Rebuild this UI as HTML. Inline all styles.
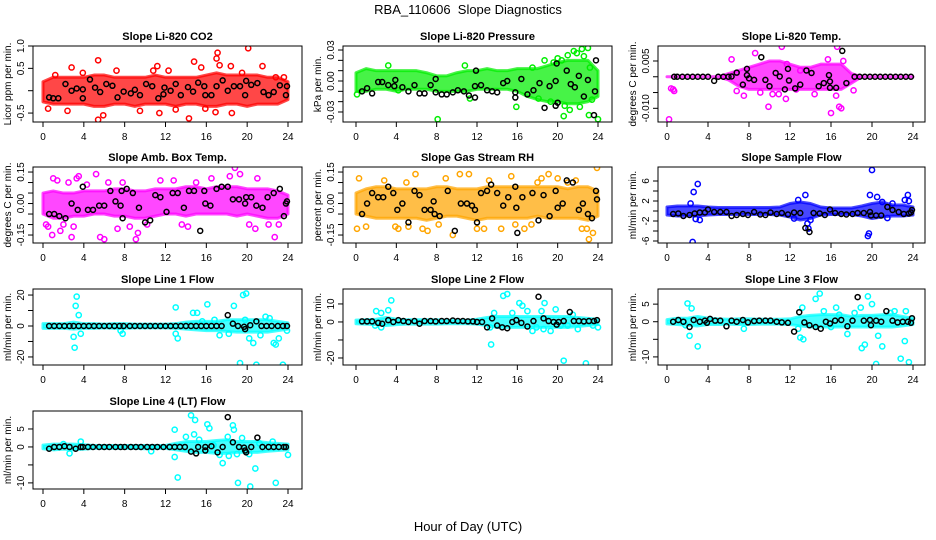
<!DOCTYPE html>
<html><head><meta charset="utf-8"><style>
html,body{margin:0;padding:0;background:#fff;}
svg{display:block;font-family:"Liberation Sans",sans-serif;}
</style></head><body>
<svg id="chart" width="936" height="540" viewBox="0 0 936 540">
<rect width="936" height="540" fill="#fff"/>
<text x="468" y="14" text-anchor="middle" font-size="13" xml:space="preserve">RBA_110606  Slope Diagnostics</text>
<text x="468" y="531" text-anchor="middle" font-size="13">Hour of Day (UTC)</text>
</svg>
<script>
const hours = [0,1,2,3,4,5,6,7,8,9,10,11,12,13,14,15,16,17,18,19,20,21,22,23,24];
const xTicks = [0,4,8,12,16,20,24];

// Panel 1: CO2
const co2Lo=[-0.25,-0.3,-0.3,-0.3,-0.3,-0.35,-0.35,-0.3,-0.3,-0.35,-0.3,-0.3,-0.3,-0.35,-0.3,-0.3,-0.35,-0.35,-0.3,-0.3,-0.35,-0.3,-0.3,-0.3,-0.2];
const co2Hi=[0.2,0.3,0.3,0.3,0.3,0.35,0.35,0.3,0.3,0.3,0.3,0.35,0.3,0.3,0.3,0.3,0.35,0.4,0.35,0.35,0.35,0.35,0.3,0.3,0.2];
const co2X=[2.8,5.4,5.4,5.9,11.2,11.4,14.3,14.8,15.5,17.1,17.0,17.3,18.4,20.1,21.5,2.4,9.5,18.5,16.9,12.3,7.2,0.5,22.8,3.9,1.2,10.8,13.0,15.9,19.5,23.6];
const co2Y=[0.52,0.68,-0.65,-0.55,0.55,-0.5,-0.62,0.65,0.52,0.85,0.72,0.57,0.55,0.95,0.55,-0.45,-0.45,-0.5,-0.48,0.45,0.45,-0.4,0.3,0.4,0.35,0.45,-0.42,-0.4,0.4,0.3];
const co2BX=[0.6,1.0,1.5,2.2,2.8,3.3,3.9,3.9,4.6,5.1,5.6,6.2,6.8,7.3,7.9,8.6,9.0,9.5,10.1,10.7,11.3,11.8,11.9,12.5,13.0,13.5,14.2,14.7,15.2,15.8,15.9,16.5,17.0,17.6,18.1,18.7,19.3,19.8,19.9,20.4,21.0,21.6,22.1,22.6,23.2,23.8,23.9];
const co2BY=[-0.15,-0.17,-0.17,0.15,0,0.05,0.03,-0.17,0.25,0.07,-0.03,0.15,0.11,-0.15,-0.02,-0.06,0.02,-0.1,0.15,0.1,-0.17,-0.08,0.07,0,0.15,-0.1,0.08,-0.02,0.18,0.1,-0.1,-0.1,0.1,0.23,0,0.1,0.1,-0.1,0.22,0.13,0.17,-0.03,-0.1,-0.03,0.12,-0.1,0.1];

// Panel 2: Pressure
const prLo=[-0.01,-0.01,-0.008,-0.008,-0.01,-0.008,-0.008,-0.008,-0.01,-0.01,-0.01,-0.01,-0.008,-0.008,-0.008,-0.008,-0.01,-0.015,-0.018,-0.02,-0.02,-0.022,-0.022,-0.02,-0.015];
const prHi=[0.008,0.012,0.01,0.01,0.01,0.01,0.01,0.008,0.005,0.005,0.008,0.01,0.01,0.012,0.01,0.01,0.012,0.012,0.012,0.015,0.018,0.02,0.02,0.02,0.01];
const prX=[0.1,3.2,4.2,8.1,10.8,11.3,15.9,17.5,18.1,18.7,19.6,20.4,20.6,20.7,21.2,21.6,21.9,22.4,22.6,23.0,23.1,23.2,23.4,24.0,22.2,20.0,19.3,21.0];
const prY=[-0.013,0.015,-0.009,-0.037,0.015,-0.017,-0.025,0.013,-0.017,0.02,0.018,0.02,-0.034,-0.024,-0.028,0.029,0.027,0.031,0.024,0.032,-0.033,0.013,-0.018,-0.037,-0.025,0.022,-0.02,0.025];
const prBX=[0.6,1.1,1.6,2.2,2.6,3.2,3.8,3.9,4.6,5.2,5.8,6.3,6.8,7.4,7.9,7.9,8.5,9.0,9.6,10.1,10.7,11.2,11.8,11.8,11.9,12.4,13.0,13.5,14.0,14.6,15.0,15.8,15.8,16.4,17.0,17.6,18.2,18.7,19.2,19.8,19.8,19.9,20.0,20.9,21.3,21.7,22.1,22.6,23.0,23.6,23.7,23.8];
const prBY=[-0.01,-0.007,-0.012,-0.001,-0.001,-0.004,-0.005,0.001,-0.006,-0.01,-0.004,-0.012,-0.012,-0.004,-0.011,0.002,-0.013,-0.013,-0.011,-0.009,-0.01,-0.014,-0.016,-0.005,0.01,-0.004,-0.009,-0.01,-0.011,-0.002,0,-0.016,-0.011,0.002,-0.013,-0.009,-0.002,-0.026,-0.005,-0.024,0,0.017,-0.021,0.01,-0.003,-0.006,0.005,-0.015,0.001,-0.033,-0.01,0.02];

// Panel 3: Li-820 Temp
const tpLo=[0,0,0,0,0,0,-0.001,-0.003,-0.004,-0.004,-0.004,-0.004,-0.004,-0.004,-0.004,-0.004,-0.004,-0.004,-0.002,0,0,0,0,0,0];
const tpHi=[0,0,0,0,0,0,0.001,0.002,0.003,0.004,0.005,0.005,0.004,0.003,0.003,0.004,0.004,0.004,0.001,0,0,0,0,0,0];
const tpX=[0.2,0.4,0.6,0.7,6.3,6.8,7.5,8.6,9.1,9.9,10.3,10.9,11.6,11.7,13.0,14.4,15.7,16.0,16.6,16.5,16.8,17.0,17.2,18.2,11.2,12.6];
const tpY=[-0.0135,-0.0037,-0.004,-0.0045,0.0055,-0.0045,-0.006,0.0075,-0.005,-0.0095,-0.0055,-0.0055,-0.007,0.004,0.002,-0.0055,0.0055,-0.0115,0.0095,-0.006,-0.0095,-0.01,0.005,-0.0043,0.0095,-0.004];
const tpBX=[0.7,1.0,1.5,2.0,2.5,3.0,3.5,4.0,5.0,5.5,6.0,4.6,6.3,6.8,7.4,7.8,7.8,8.0,8.5,9.2,9.6,10.0,10.6,11.0,11.5,11.8,11.9,12.5,13.0,13.6,14.1,14.8,15.3,15.8,15.9,15.9,16.5,17.1,17.5,18.3,18.8,19.3,19.8,20.3,20.8,21.3,21.8,22.3,22.8,23.3,23.8];
const tpBY=[0,0,0,0,0,0,0,0,0,0,0,-0.0013,0.0001,0.0013,-0.0025,0.0025,0.0005,-0.0005,-0.001,0.0062,-0.001,-0.003,0.0012,0.0001,-0.004,0.0025,-0.0012,-0.0037,-0.0025,0.002,0.0012,-0.003,-0.002,0.0005,-0.0035,-0.0015,-0.0035,0.0082,-0.002,0,0,0,0,0,0,0,0,0,0,0,0];

// Panel 4: Amb. Box Temp
const abLo=[-0.05,-0.07,-0.07,-0.06,-0.06,-0.05,-0.05,-0.06,-0.06,-0.07,-0.07,-0.06,-0.05,-0.05,-0.06,-0.05,-0.05,-0.05,-0.05,-0.06,-0.05,-0.06,-0.07,-0.07,-0.05];
const abHi=[0.05,0.06,0.05,0.05,0.06,0.06,0.06,0.07,0.07,0.06,0.06,0.07,0.07,0.07,0.08,0.08,0.07,0.08,0.08,0.08,0.07,0.07,0.07,0.06,0.04];
const abX=[0.3,0.5,0.9,1.0,1.4,1.7,2.0,2.5,2.8,3.3,3.5,4.3,5.2,5.6,6.0,6.4,7.3,7.8,9.1,9.3,11.5,12.8,14.2,16.5,18.3,18.8,19.3,20.2,21.0,22.1,22.7,23.1,8.5,10.2,13.6,15.0,20.8,3.0];
const abY=[-0.1,-0.11,-0.15,0.12,0.11,-0.13,-0.1,0.1,-0.16,0.12,0.13,0.09,0.14,-0.16,-0.17,0.1,-0.12,0.1,-0.17,-0.14,0.11,0.11,-0.11,0.12,0.13,0.17,0.14,-0.1,0.12,-0.1,-0.16,-0.1,-0.11,-0.1,-0.1,0.1,-0.12,-0.11];
const abBX=[0.6,1.1,1.6,2.2,2.8,3.4,3.9,4.4,4.9,5.5,6.0,6.6,7.1,7.6,7.7,7.8,8.2,8.8,9.4,10.0,10.5,11.0,11.5,12.1,12.7,13.2,13.8,14.3,14.8,15.4,15.8,15.9,16.4,17.0,17.5,18.1,18.6,19.2,19.8,19.9,20.4,20.9,21.5,22.0,22.6,23.2,23.6,23.9,23.8];
const abBY=[-0.05,-0.05,-0.06,-0.07,0,-0.03,0.08,-0.03,-0.03,-0.01,-0.01,0.06,0.01,-0.01,0.06,-0.07,0.07,0.05,-0.02,-0.09,-0.08,0.04,0.03,-0.04,0.05,0.05,-0.02,0.06,0.06,-0.13,0.06,0,-0.01,0.07,0.08,0.08,0.02,0.02,0,0.03,0.03,-0.01,-0.02,0.03,0.05,0.07,-0.06,0.01,0];

// Panel 5: Gas Stream RH
const rhLo=[-0.05,-0.06,-0.07,-0.07,-0.07,-0.07,-0.07,-0.08,-0.07,-0.06,-0.06,-0.07,-0.08,-0.07,-0.07,-0.07,-0.07,-0.07,-0.06,-0.07,-0.07,-0.07,-0.07,-0.08,-0.06];
const rhHi=[0.05,0.07,0.08,0.08,0.07,0.07,0.07,0.07,0.08,0.08,0.07,0.07,0.07,0.08,0.08,0.08,0.08,0.08,0.08,0.08,0.08,0.07,0.08,0.08,0.06];
const rhX=[0.1,0.3,1.0,2.8,3.9,4.2,5.2,5.9,6.6,7.1,8.2,9.6,10.3,11.2,12.0,12.7,13.2,14.4,15.4,16.7,18.0,18.4,19.1,20.0,21.0,22.4,22.9,23.1,23.5,23.9,21.8,17.4,15.8,8.9,5.0];
const rhY=[-0.12,0.12,-0.11,0.11,-0.11,-0.12,-0.11,0.14,-0.12,-0.13,-0.1,-0.15,0.14,0.14,-0.12,-0.12,0.11,-0.12,0.13,-0.12,0.1,0.12,0.14,0.12,0.1,-0.12,-0.12,-0.17,-0.14,0.17,0.11,-0.1,-0.1,0.12,0.1];
const rhBX=[0.6,1.1,1.6,2.2,2.7,3.2,3.7,4.1,4.6,5.2,5.8,6.3,6.8,7.4,7.7,7.8,8.3,9.1,9.8,10.4,11.0,11.5,11.8,12.0,12.4,13.0,13.4,14.0,14.6,15.1,15.8,15.9,16.5,16.0,17.5,18.1,18.6,19.2,19.8,20.0,20.5,20.9,21.5,22.1,22.5,23.0,23.4,23.8,23.9];
const rhBY=[-0.05,0,0.05,0.03,0.03,0.08,0.05,-0.03,0,-0.09,0.06,0.04,-0.03,-0.03,0.01,-0.05,-0.06,0.06,-0.13,0,0,-0.01,-0.03,-0.09,0.05,0.06,0.09,0.05,-0.01,0.03,0.08,-0.02,0.03,-0.14,0.05,-0.08,0.04,-0.06,0.06,-0.02,0,0.11,0.1,-0.03,0,-0.05,-0.07,0.06,0.02];

// Panel 6: Sample Flow
const sfLo=[-0.8,-1,-1,-1,-0.8,-0.7,-0.7,-0.7,-0.7,-0.7,-0.7,-0.8,-1.2,-1.8,-1.5,-0.8,-0.7,-0.7,-0.7,-1.0,-1.5,-1.2,-1.0,-1.0,-0.8];
const sfHi=[0.8,1.0,1.0,1.0,0.8,0.7,0.7,0.7,0.7,0.7,0.7,0.8,1.5,1.8,1.5,0.8,0.6,0.6,0.6,1.0,1.5,1.8,1.2,1.2,0.8];
const sfX=[2.5,2.6,3.0,2.3,2.8,3.2,13.5,13.7,13.8,14.0,12.8,19.6,19.7,20.0,19.8,20.5,21.0,23.5,23.2,23.6,12.4,21.5,22.0];
const sfY=[-6.2,3.8,5.4,1.5,-1.6,-1.8,3.2,-2.5,-3.5,-1.8,2.2,-5.0,-4.5,8.2,3.2,2.8,1.8,3.2,2.2,2.0,-1.5,-1.4,1.5];
const sfBX=[0.6,1.1,1.6,2.2,2.7,3.2,3.7,4.0,4.6,5.2,5.8,6.3,6.8,7.4,7.9,8.5,9.1,9.6,10.1,10.7,11.2,11.8,12.4,13.0,13.5,13.9,14.3,14.9,15.4,15.9,16.4,17.0,17.5,18.1,18.6,19.2,19.8,19.9,20.4,20.9,21.5,22.0,22.6,23.1,23.6,23.9,23.8];
const sfBY=[-0.6,-0.5,-1.0,-0.8,-0.5,-0.3,-0.3,0.3,-0.2,-0.2,-0.2,-1.0,-0.8,-0.6,-0.8,-0.2,-0.7,-0.8,-0.3,-0.6,-0.4,-0.7,-0.3,-0.4,-3.4,-4.2,-0.4,-0.5,-0.8,0.3,-0.4,-0.6,-0.7,-0.6,-0.4,-0.4,-0.2,-0.9,-0.9,-0.9,0.8,0.2,-0.2,-0.6,-0.5,0.2,-0.3];

// Panel 7: Line 1 Flow
const l1Lo=[-1.5,-1.5,-1.5,-2,-1.5,-1.5,-1.2,-1.5,-1.5,-1.2,-1.2,-1.2,-1.2,-1.5,-2,-2.5,-3,-3,-3.5,-4,-4,-4,-4,-3,-2];
const l1Hi=[1.5,1.5,1.5,2.5,1.5,1.5,1.2,1.5,1.5,1.2,1.2,1.2,1.2,1.5,2.5,3,3,3,4,4,4,4,4,3,2];
const l1X=[3.0,3.1,3.2,3.3,3.5,3.7,7.6,7.8,13.0,13.0,13.2,14.7,15.1,15.6,16.1,16.8,17.3,18.2,18.7,19.3,19.6,19.9,19.8,20.2,20.6,20.9,21.3,21.8,22.2,22.6,23.1,23.5,23.9,22.8];
const l1Y=[-7,-14,13,19,7,-5,-3,-5,12,-5,-8,8.5,8.5,3,14,4,-6,-5,13,-24,20,21,4,-8,-11,-25,-6,6,5,-11,-8,-25,-3,-12];
const l1BX=[0.6,1.1,1.6,2.1,2.6,3.0,3.5,4.0,4.5,5.0,5.5,6.0,6.5,7.0,7.5,7.9,8.5,9.0,9.5,10.0,10.5,11.0,11.5,12.0,12.5,13.0,13.5,14.0,14.5,15.0,15.5,16.0,16.5,17.0,17.5,18.1,18.6,19.1,19.7,19.8,20.3,20.9,21.4,21.9,22.4,23.0,23.5,23.9];
const l1BY=[0,0,0,0,0,0,0,0,0,0,0,0,0,0,0,0,0,0,0,0,0,0,0,0,0,0,0,0,0,0,0,0,0,0,0,7,1.5,0,-0.5,-2,0.5,3,0,0,0,0,0,0];

// Panel 8: Line 2 Flow
const l2Lo=[-1,-1.2,-1.5,-2,-1.5,-1.2,-1.2,-1.2,-1.2,-1,-1,-1,-1.2,-2,-3,-3,-3,-3,-3,-3,-3,-3,-2.5,-2,-1.5];
const l2Hi=[1,1.2,1.5,2.5,1.5,1.2,1.2,1.2,1.2,1,1,1,1.5,2.5,3,3,3,3,3,3,3,3,2.5,2,1.5];
const l2X=[2.0,2.5,3.2,3.5,1.9,2.5,13.3,13.4,13.7,14.6,15.0,15.5,16.2,16.5,17.0,17.5,17.9,18.4,18.6,18.7,19.3,19.8,20.3,20.6,21.0,22.0,22.8,23.5,24.0,21.5];
const l2Y=[6,5,6.5,12,-2,-3,-3,-12.5,5,14.5,15.5,5,10.5,9,6,-5,-3,6,-4,10.5,-5,7,-2,-21.5,-2,-4,-23,-2,-3,4];
const l2BX=[0.6,1.1,1.6,2.2,2.6,3.2,3.7,4.2,4.7,5.2,5.8,6.3,6.8,7.4,7.9,8.5,9.0,9.6,10.1,10.6,11.1,11.6,12.0,12.5,13.0,13.5,14.0,14.5,15.0,15.5,15.9,16.4,17.0,17.6,18.1,18.6,19.1,19.6,19.9,20.1,20.6,21.2,21.6,22.1,22.6,23.1,23.6,23.9];
const l2BY=[0.3,0.3,0.3,-0.5,-1,1,0,1,0.5,0,0.5,-1,0.5,0.5,0.3,0.5,0.5,0.8,0.5,0.5,0.3,0.3,0,0,-3,2,-2,-3,-3.5,0,1,-0.5,-2.5,0.5,14,2,0.5,0,-1.5,0,0.5,5.5,0.5,0.5,0.3,0.5,0.5,1];

// Panel 9: Line 3 Flow
const l3Lo=[-0.6,-0.8,-1,-1.2,-0.8,-0.8,-0.7,-0.8,-0.8,-0.7,-0.7,-0.7,-0.8,-1.2,-1.5,-1.5,-1.5,-1.5,-1.5,-1.5,-1.5,-1.5,-1.5,-1.2,-0.8];
const l3Hi=[0.6,1,1,1.5,1,0.8,0.7,0.8,0.8,0.7,0.7,0.7,0.8,1.5,1.8,2,2,2,1.5,1.8,1.8,2,2,1.5,1];
const l3X=[2.0,2.4,2.2,3.0,1.8,7.5,12.8,13.2,13.3,13.0,14.5,14.9,15.3,16.5,16.8,17.6,18.3,18.9,19.0,19.3,19.6,20.0,20.4,20.6,21.0,21.8,22.2,22.8,23.2,23.6,23.3,16.0];
const l3Y=[5.2,3.8,-4,-7,-1,-2,-2,4,-5,-4.5,6.5,8,3,4,2,-3.5,2.5,4,-7.5,-6.5,7.2,5,-12,-4,-7,2.5,3,-10.5,-5.5,-11.5,3,-1.5];
const l3BX=[0.6,1.1,1.6,2.2,2.6,3.2,3.7,3.9,4.2,4.7,5.2,5.8,6.3,6.8,7.4,7.9,8.5,9.0,9.6,10.1,10.7,11.2,11.8,12.4,12.9,13.4,13.9,14.5,15.0,15.5,15.9,16.4,17.0,17.6,18.1,18.6,19.2,19.8,19.9,20.4,20.9,21.4,22.0,22.5,23.0,23.5,23.8,23.9];
const l3BY=[0,0.5,0,-1.5,0.5,0,0.3,-0.3,0.8,0.3,0.3,-1.3,0.3,0,0.5,-0.2,0.2,0.3,0.3,0.3,0,-0.2,-0.3,-2.8,2.7,-0.2,-1,-1.5,-2,0,-0.5,0.3,0.5,-1.3,0.3,7,0.3,0.5,-1,0.3,0,3,0.3,-0.2,0,0,-0.3,1];

// Panel 10: Line 4 (LT) Flow
const l4Lo=[-0.5,-0.8,-0.6,-0.8,-0.6,-0.4,-0.4,-0.4,-0.4,-0.4,-0.5,-0.4,-0.4,-0.8,-1.2,-1.5,-1.5,-1.8,-1.8,-1.5,-1.5,-1.5,-1.2,-1,-0.8];
const l4Hi=[0.5,0.8,0.8,0.8,0.6,0.4,0.4,0.4,0.4,0.4,0.4,0.4,0.4,1,1.5,1.5,1.5,1.8,2,1.5,1.5,1.5,1.2,1,0.8];
const l4X=[2.0,2.6,3.7,10.6,12.9,12.9,13.2,14.0,14.5,14.8,14.9,15.3,16.1,16.3,17.3,17.6,18.1,18.2,18.6,18.7,19.0,19.1,19.5,20.2,20.3,20.8,21.2,22.5,22.8,24.0,16.7];
const l4Y=[0.8,-1.8,1.5,-1.2,4.8,-2.8,-8.5,2.8,8.8,3.5,7.5,2,6.3,5.2,-2.2,-4.5,2.8,-2.5,6,4.8,-2,-10,2.5,-2,-11,-6,1,1.5,-10,-2.2,0.5];
const l4BX=[0.6,1.1,1.6,2.1,2.6,3.2,3.7,3.9,4.4,4.9,5.5,6.0,6.5,7.1,7.6,8.0,8.6,9.1,9.6,10.2,10.7,11.2,11.8,12.4,12.9,13.4,13.9,14.5,15.0,15.2,15.9,15.9,16.5,17.1,17.6,18.1,18.6,19.2,19.7,19.8,19.9,20.4,21.0,21.5,22.1,22.6,23.1,23.6,23.8];
const l4BY=[-0.5,0,0,0.2,0,-0.5,0,0,0,0,0,0,0,0,0,0,0,0,0,0,0,0,0,0,0,0,0,-1.3,-1.8,0,-1,0,0.2,-1.5,0,8.3,1.3,0,-0.2,-1,-1.5,0,2.6,0,0,0,0,0,0];

const NS="http://www.w3.org/2000/svg";
const svg=document.getElementById('chart');
function mk(tag,attrs,parent){const e=document.createElementNS(NS,tag);for(const k in attrs)e.setAttribute(k,attrs[k]);(parent||svg).appendChild(e);return e;}

const cols=[{l:33,r:302,x0:43,x24:288},{l:343,r:612,x0:356,x24:598},{l:658,r:925,x0:667,x24:913}];
const rows=[{t:46,b:122},{t:167,b:243},{t:289,b:365},{t:411,b:489}];

const panels=[
 {name:'co2',title:'Slope Li-820 CO2',ylab:'Licor ppm per min.',c:0,r:0,ylim:[-0.7,1.0],ticks:[-0.5,0,0.5,1.0],labels:['-0.5','','0.5','1.0'],col:'#ff0000',lo:co2Lo,hi:co2Hi,x:co2X,y:co2Y,bx:co2BX,by:co2BY},
 {name:'pressure',title:'Slope Li-820 Pressure',ylab:'kPa per min.',c:1,r:0,ylim:[-0.0397,0.0339],ticks:[-0.03,-0.02,-0.01,0,0.01,0.02,0.03],labels:['-0.03','','','0.00','','','0.03'],col:'#00ee00',lo:prLo,hi:prHi,x:prX,y:prY,bx:prBX,by:prBY},
 {name:'li820-temp',title:'Slope Li-820 Temp.',ylab:'degrees C per min.',c:2,r:0,ylim:[-0.01434,0.00975],ticks:[-0.01,-0.005,0,0.005],labels:['-0.010','','','0.005'],col:'#ff00ff',lo:tpLo,hi:tpHi,x:tpX,y:tpY,bx:tpBX,by:tpBY},
 {name:'amb-box-temp',title:'Slope Amb. Box Temp.',ylab:'degrees C per min.',c:0,r:1,ylim:[-0.188,0.174],ticks:[-0.15,-0.1,-0.05,0,0.05,0.1,0.15],labels:['-0.15','','','0.00','','','0.15'],col:'#ff00ff',lo:abLo,hi:abHi,x:abX,y:abY,bx:abBX,by:abBY},
 {name:'gas-stream-rh',title:'Slope Gas Stream RH',ylab:'percent per min.',c:1,r:1,ylim:[-0.188,0.174],ticks:[-0.15,-0.1,-0.05,0,0.05,0.1,0.15],labels:['-0.15','','','0.00','','','0.15'],col:'#ffa500',lo:rhLo,hi:rhHi,x:rhX,y:rhY,bx:rhBX,by:rhBY},
 {name:'sample-flow',title:'Slope Sample Flow',ylab:'ml/min per min.',c:2,r:1,ylim:[-6.4,8.8],ticks:[-6,-4,-2,0,2,4,6],labels:['-6','','-2','','2','','6'],col:'#0000ff',lo:sfLo,hi:sfHi,x:sfX,y:sfY,bx:sfBX,by:sfBY},
 {name:'line1-flow',title:'Slope Line 1 Flow',ylab:'ml/min per min.',c:0,r:2,ylim:[-25.2,23.9],ticks:[-20,-10,0,10,20],labels:['-20','','0','','20'],col:'#00ffff',lo:l1Lo,hi:l1Hi,x:l1X,y:l1Y,bx:l1BX,by:l1BY},
 {name:'line2-flow',title:'Slope Line 2 Flow',ylab:'ml/min per min.',c:1,r:2,ylim:[-23.9,18.3],ticks:[-20,-10,0,10],labels:['-20','','0','10'],col:'#00ffff',lo:l2Lo,hi:l2Hi,x:l2X,y:l2Y,bx:l2BX,by:l2BY},
 {name:'line3-flow',title:'Slope Line 3 Flow',ylab:'ml/min per min.',c:2,r:2,ylim:[-12.3,9.3],ticks:[-10,-5,0,5],labels:['-10','','0','5'],col:'#00ffff',lo:l3Lo,hi:l3Hi,x:l3X,y:l3Y,bx:l3BX,by:l3BY},
 {name:'line4-flow',title:'Slope Line 4 (LT) Flow',ylab:'ml/min per min.',c:0,r:3,ylim:[-11.7,10],ticks:[-10,-5,0,5],labels:['-10','','0','5'],col:'#00ffff',lo:l4Lo,hi:l4Hi,x:l4X,y:l4Y,bx:l4BX,by:l4BY}
];

panels.forEach(p=>{
  const C=cols[p.c],R=rows[p.r];
  const sx=h=>C.x0+(C.x24-C.x0)*h/24;
  const sy=v=>R.b-(R.b-R.t)*(v-p.ylim[0])/(p.ylim[1]-p.ylim[0]);
  const g=mk('g',{});
  
  
  const clipId='clip-'+p.name;
  const cp=mk('clipPath',{id:clipId},g);
  mk('rect',{x:C.l,y:R.t,width:C.r-C.l,height:R.b-R.t},cp);
  const plot=mk('g',{'clip-path':'url(#'+clipId+')'},g);
  
  
  let pts=hours.map((h,i)=>sx(h)+','+sy(p.hi[i]));
  pts=pts.concat(hours.slice().reverse().map((h,j)=>{const i=hours.length-1-j;return sx(h)+','+sy(p.lo[i]);}));
  const band=mk('polygon',{points:pts.join(' '),fill:p.col,'fill-opacity':0.72,stroke:p.col,'stroke-opacity':0.72,'stroke-width':3,'stroke-linejoin':'round'},plot);
  
  
  p.x.forEach((h,i)=>{
    const c=mk('circle',{cx:sx(h),cy:sy(p.y[i]),r:2.6,fill:'none',stroke:p.col,'stroke-width':1.5},plot);
    
    
  });
  p.bx.forEach((h,i)=>{
    const c=mk('circle',{cx:sx(h),cy:sy(p.by[i]),r:2.5,fill:'none',stroke:'#000','stroke-width':1.5},plot);
    
    
  });
  const box=mk('rect',{x:C.l,y:R.t,width:C.r-C.l,height:R.b-R.t,fill:'none',stroke:'#000','stroke-width':1},g);
  
  
  const t=mk('text',{x:(C.l+C.r)/2,y:R.t-6,'text-anchor':'middle','font-size':11,'font-weight':'bold'},g);
  t.textContent=p.title;
  
  
  xTicks.forEach(h=>{
    mk('line',{x1:sx(h),x2:sx(h),y1:R.b,y2:R.b+5,stroke:'#000'},g);
    const l=mk('text',{x:sx(h),y:R.b+18,'text-anchor':'middle','font-size':10},g);
    l.textContent=h;
    
    
  });
  p.ticks.forEach((v,i)=>{
    const y=sy(v);
    mk('line',{x1:C.l-5,x2:C.l,y1:y,y2:y,stroke:'#000'},g);
    if(p.labels[i]){
      const l=mk('text',{x:C.l-9,y:y,'text-anchor':'middle','font-size':10,transform:'rotate(-90 '+(C.l-9)+' '+y+')'},g);
      l.textContent=p.labels[i];
      
      
    }
  });
  const yc=(R.t+R.b)/2, xl=C.l-22;
  const yl=mk('text',{x:xl,y:yc,'text-anchor':'middle','font-size':10,transform:'rotate(-90 '+xl+' '+yc+')'},g);
  yl.textContent=p.ylab;
  
  
});
</script>
</body></html>
